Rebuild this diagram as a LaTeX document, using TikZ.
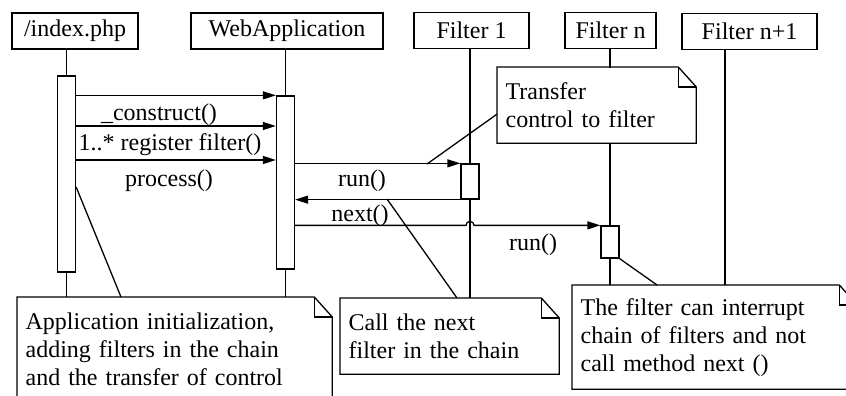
\documentclass[tikz,border=0pt]{standalone}
\usepackage{fontspec}
\setmainfont{Liberation Serif}
\usetikzlibrary{positioning,calc,arrows.meta}

\newcommand{\notefold}[1]{%
  \draw (#1.north west) -- ([xshift=-18pt]#1.north east)
        -- ([yshift=-20pt]#1.north east) -- (#1.south east)
        -- (#1.south west) -- cycle;
  \draw ([xshift=-18pt]#1.north east) |- ([yshift=-20pt]#1.north east);}

\begin{document}
\begin{tikzpicture}
  [x=1pt,y=-1pt,line width=1.3pt,
   font=\fontsize{24}{28}\selectfont,
   headN/.style={draw,minimum height=36pt,inner sep=0pt},
   actN/.style={draw,fill=white,minimum width=18pt,inner sep=0pt},
   noteN/.style={fill=white,anchor=north west,align=left,inner xsep=8pt,inner ysep=0pt},
   msg/.style={-{Triangle[length=13pt,width=8pt]}},
   lifeL/.style={line width=1.1pt},
   tag/.style={anchor=base,inner sep=0pt},
  ]
 \clip (0,0) rectangle (846,396);

 \node[headN,minimum width=126pt] (ip)  at (75,31)      {/index.php};
 \node[headN,minimum width=192pt] (wa)  at (287,31)     {WebApplication};
 \node[headN,minimum width=115pt] (f1)  at (471.5,30.5) {Filter 1};
 \node[headN,minimum width=91pt]  (fn)  at (610.5,30.5) {Filter n};
 \node[headN,minimum width=135pt] (fn1) at (749.5,31.5) {Filter n+1};

 % lifelines, down to the notes
 \coordinate (appTop)  at (0,297);
 \coordinate (callTop) at (0,298);
 \coordinate (intTop)  at (0,285);
 \draw[lifeL] (66.5,0 |- ip.south) -- (66.5,0 |- appTop);
 \draw[lifeL] (285.5,0 |- wa.south) -- (285.5,0 |- appTop);
 \draw[lifeL] (470,0 |- f1.south) -- (470,0 |- callTop);
 \draw[lifeL] (610,0 |- fn.south) -- (610,0 |- intTop);
 \draw[lifeL] ([xshift=-24.5pt]fn1.south) -- ([xshift=-24.5pt]fn1.south |- intTop);

 \node[actN,minimum height=196pt] (ipAct) at (66.5,174)  {};
 \node[actN,minimum height=173pt] (waAct) at (285.5,182.5) {};
 \node[actN,minimum height=35pt]  (f1Act) at (470,181.5) {};
 \node[actN,minimum height=32pt]  (fnAct) at (610,242)   {};

 \node[noteN,text width=298pt,minimum height=104pt] (appNote)  at (17,0 |- appTop)
   {Application initialization,\\adding filters in the chain\\and the transfer of control};
 \node[noteN,text width=182pt,minimum height=75pt]  (trNote)   at (497,67)
   {Transfer\\control to filter};
 \node[noteN,text width=202pt,minimum height=75pt]  (callNote) at (340,0 |- callTop)
   {Call the next\\filter in the chain};
 \node[noteN,text width=268pt,minimum height=103pt] (intNote)  at (572,0 |- intTop)
   {The filter can interrupt\\chain of filters and not\\call method next ()};

 \notefold{appNote}
 \notefold{trNote}
 \notefold{callNote}
 \notefold{intNote}

 % messages
 \draw[msg] (ipAct.east |- waAct.north) -- (waAct.north west);
 \draw[msg] (ipAct.east |- 0,126) -- (waAct.west |- 0,126);
 \draw[msg] (ipAct.east |- 0,160) -- (waAct.west |- 0,160);
 \draw[msg] (waAct.east |- f1Act.north) -- (f1Act.north west);
 \draw[msg] (f1Act.south west) -- (waAct.east |- f1Act.south);
 \coordinate (hop) at (f1Act.center |- fnAct.north);
 \draw[msg] (waAct.east |- fnAct.north) -- ([xshift=-4pt]hop)
   arc[start angle=180,end angle=360,radius=4] -- (fnAct.north west);

 \node[tag] (lcon)  at (159,121) {\_construct()};
 \node[tag] (lreg)  at (170,150) {1..* register filter()};
 \node[tag] (lpro)  at (169,186) {process()};
 \node[tag] (lrun)  at (362,186) {run()};
 \node[tag] (lnext) at (360,221) {next()};
 \node[tag] (lrunb) at (533,250) {run()};

 % note links
 \coordinate (trEnd)   at (427,164);
 \coordinate (callEnd) at (387,199);
 \draw ([yshift=-9pt]trNote.west) -- (trEnd);
 \draw ([xshift=117pt]callNote.north west) -- (callEnd);
 \draw ([yshift=-13pt]ipAct.east) -- ([xshift=104pt]appNote.north west);
 \draw (fnAct.south east) -- ([xshift=85pt]intNote.north west);

\end{tikzpicture}
\end{document}
